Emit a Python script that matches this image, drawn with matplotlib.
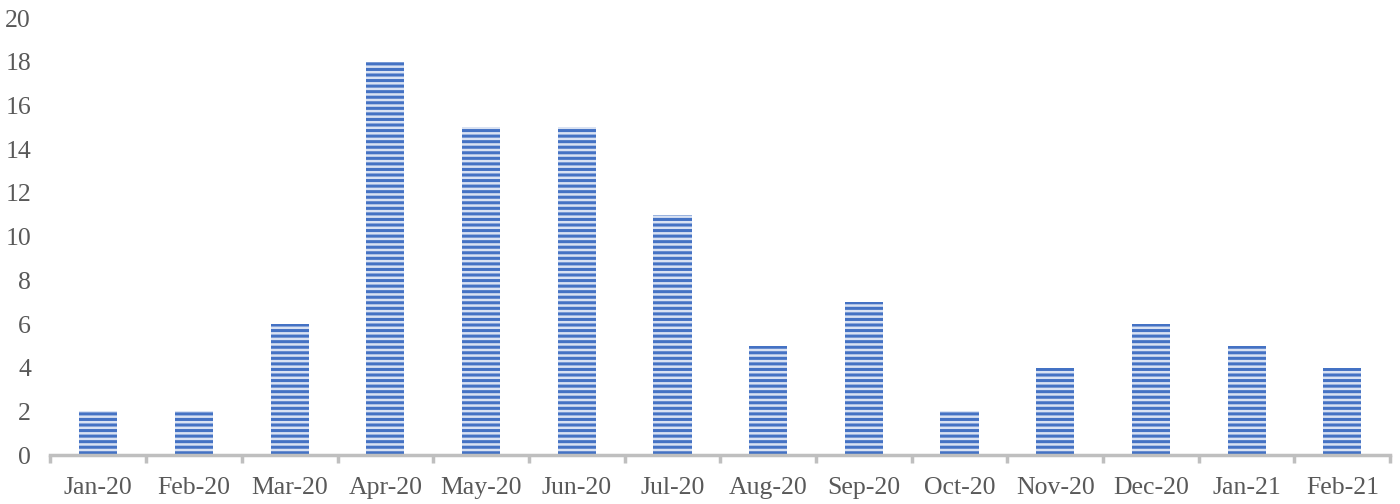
import matplotlib.pyplot as plt
import numpy as np

months = ['Jan-20', 'Feb-20', 'Mar-20', 'Apr-20', 'May-20', 'Jun-20', 'Jul-20',
          'Aug-20', 'Sep-20', 'Oct-20', 'Nov-20', 'Dec-20', 'Jan-21', 'Feb-21']
counts = [2, 2, 6, 18, 15, 15, 11, 5, 7, 2, 4, 6, 5, 4]

plt.rcParams['font.family'] = ['Liberation Serif', 'DejaVu Serif']
plt.rcParams['hatch.linewidth'] = 2.2

fig = plt.figure(figsize=(14, 5.04), dpi=100)
ax = fig.add_axes([0.036, 0.097, 0.957, 0.867])

x = np.arange(len(months))
ax.bar(x, counts, width=0.4, color='#d9e2f3', edgecolor='#4472c4',
       linewidth=0, hatch='---', zorder=2)

ax.set_xlim(-0.5, len(months) - 0.5)
ax.set_ylim(0, 20)
ax.set_yticks(range(0, 21, 2))
ax.set_xticks(x)
ax.set_xticklabels(months)
ax.set_xticks(np.arange(-0.5, len(months)), minor=True)

for s in ['top', 'right', 'left']:
    ax.spines[s].set_visible(False)
ax.spines['bottom'].set_color('#bfbfbf')
ax.spines['bottom'].set_linewidth(2.5)

ax.tick_params(axis='x', which='major', length=0, pad=16, labelsize=18.5, labelcolor='#595959')
ax.tick_params(axis='x', which='minor', length=6, width=2.5, color='#bfbfbf')
ax.tick_params(axis='y', length=0, pad=14, labelsize=18.5, labelcolor='#595959')

fig.savefig('out.png', dpi=100)
